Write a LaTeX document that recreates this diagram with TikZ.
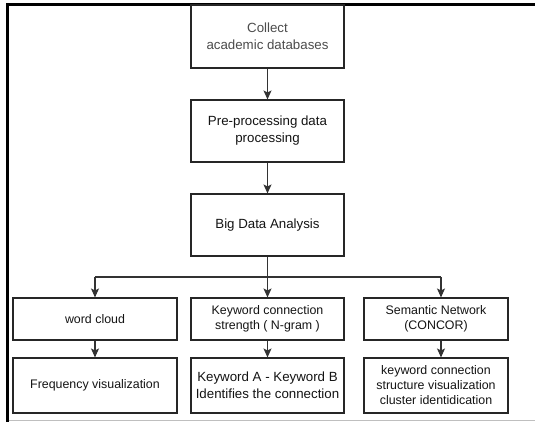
\documentclass[tikz,border=0pt]{standalone}
\usepackage{fontspec}
\setmainfont{Liberation Sans}
\usetikzlibrary{arrows.meta,calc}

\tikzset{
  box/.style={draw=black!85, line width=1.1pt, fill=white, align=center,
    inner sep=2pt, text=black!92, font=\fontsize{12.4}{15}\selectfont},
  bigbox/.style={box, font=\fontsize{13.3}{17}\selectfont},
  arr/.style={draw=black!80, line width=1.1pt,
    -{Stealth[length=9pt,width=8pt,inset=2pt]}},
  link/.style={draw=black!80, line width=1.1pt},
}

\begin{document}
\begin{tikzpicture}[x=1pt, y=-1pt]
  \useasboundingbox (0,0) rectangle (535,422);

  % Rahmen
  \draw[line width=3pt] (7.5,422) -- (7.5,4.5) -- (535,4.5);
  \draw[black!25, line width=0.8pt] (9,420) -- (535,420);

  % Ablauf oben
  \node[bigbox, minimum width=153pt, minimum height=63pt, text=black!70]
    (collect) at (267.5,36.5) {Collect\\academic databases};
  \node[bigbox, minimum width=153pt, minimum height=62pt]
    (prep) at (267.5,131) {Pre-processing data\\processing};
  \node[bigbox, minimum width=153pt, minimum height=62pt]
    (bda) at (267.5,225) {Big Data Analysis};

  % Drei Zweige
  \node[box, minimum width=164pt, minimum height=42pt]
    (wc) at (95,319) {word cloud};
  \node[box, minimum width=153pt, minimum height=42pt]
    (kcs) at (267.5,319) {Keyword connection\\strength ( N-gram )};
  \node[box, minimum width=144pt, minimum height=42pt]
    (sn) at (436,319) {Semantic Network\\(CONCOR)};

  \node[box, minimum width=164pt, minimum height=55pt]
    (fv) at (95,385.5) {Frequency visualization};
  \node[bigbox, minimum width=153pt, minimum height=55pt]
    (ka) at (267.5,385.5) {Keyword A - Keyword B\\Identifies the connection};
  \node[box, minimum width=144pt, minimum height=55pt]
    (kc) at (436,385.5) {keyword connection\\structure visualization\\cluster identidication};

  % Verbindungen
  \coordinate (splitL) at (95,277);
  \coordinate (splitR) at (441,277);

  \draw[arr] (collect) -- (prep);
  \draw[arr] (prep) -- (bda);
  \draw[arr] (bda) -- (kcs);
  \draw[link] (splitL) -- (splitR);
  \draw[arr] (splitL) -- (splitL |- wc.north);
  \draw[arr] (splitR) -- (splitR |- sn.north);

  \draw[arr] (wc) -- (fv);
  \draw[arr] (kcs) -- (ka);
  \draw[arr] (splitR |- sn.south) -- (splitR |- kc.north);

\end{tikzpicture}
\end{document}
